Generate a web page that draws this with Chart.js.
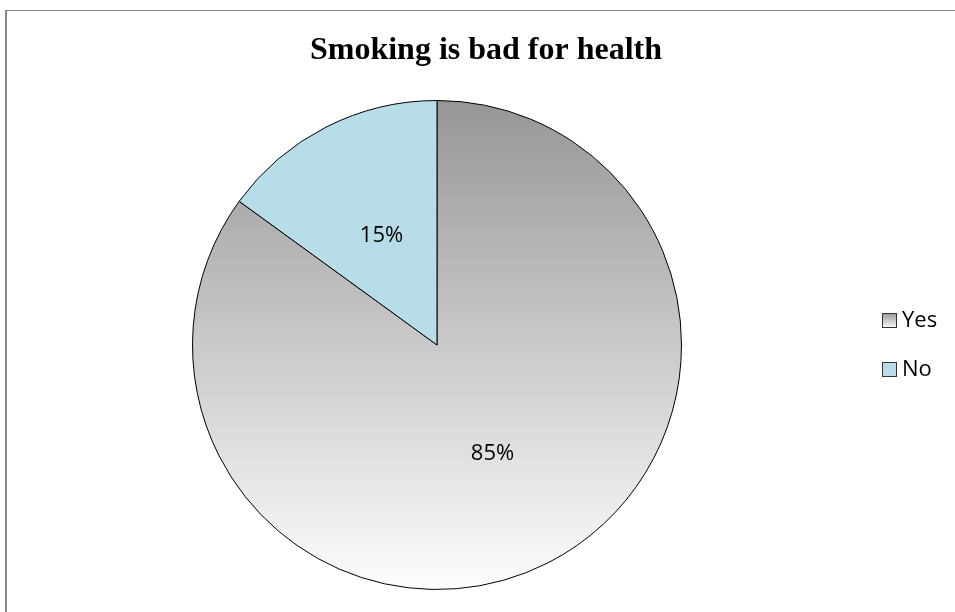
<!DOCTYPE html>
<html>
<head>
<meta charset="utf-8">
<script src="https://cdn.jsdelivr.net/npm/chart.js@4.4.1/dist/chart.umd.min.js"></script>
<style>
    html, body { margin: 0; padding: 0; background: #fff; overflow: hidden; }
    #frame {
        position: absolute; left: 5px; top: 10px; width: 980px; height: 700px;
        border-top: 1px solid #878787; border-left: 2px solid #878787;
    }
    #pie { position: absolute; left: 0; top: 0; }
</style>
</head>
<body>
<div id="frame"></div>
<canvas id="pie" width="955" height="612"></canvas>
<script>
const chartTitle = "Smoking is bad for health";
const categories = ["Yes", "No"];
const shares = [85, 15];
const pctLabels = shares.map((v) => v + "%");

// Yes slice uses a vertical grey-to-white fill like the original
function yesGradient(ctx, top, bottom) {
    const g = ctx.createLinearGradient(0, top, 0, bottom);
    g.addColorStop(0, "#969696");
    g.addColorStop(1, "#fdfdfd");
    return g;
}

const sliceColor = function (context) {
    if (context.dataIndex === 1) return "#b7dde8";
    const area = context.chart.chartArea;
    if (!area) return "#c8c8c8";
    return yesGradient(context.chart.ctx, area.top, area.bottom);
};

const textPlugin = {
    id: "textPlugin",
    afterDraw(chart) {
        const ctx = chart.ctx;
        ctx.save();

        // title
        ctx.fillStyle = "#000";
        ctx.font = "bold 32px 'Liberation Serif', 'Times New Roman', serif";
        ctx.textAlign = "center";
        ctx.textBaseline = "alphabetic";
        ctx.fillText(chartTitle, 486, 59);

        // percentage labels in the middle of each slice
        ctx.font = "22px 'Open Sans', sans-serif";
        ctx.textBaseline = "middle";
        const meta = chart.getDatasetMeta(0);
        meta.data.forEach((arc, i) => {
            const p = arc.tooltipPosition();
            ctx.fillText(pctLabels[i], p.x, p.y);
        });

        // legend
        ctx.textAlign = "left";
        categories.forEach((name, i) => {
            const y = 313 + i * 49;
            ctx.fillStyle = i === 0 ? yesGradient(ctx, y, y + 15) : "#b7dde8";
            ctx.fillRect(882, y, 15, 15);
            ctx.strokeStyle = "#333";
            ctx.lineWidth = 1;
            ctx.strokeRect(882.5, y + 0.5, 14, 14);
            ctx.fillStyle = "#000";
            ctx.fillText(name, 902, y + 8);
        });

        ctx.restore();
    }
};

new Chart(document.getElementById("pie"), {
    type: "pie",
    data: {
        labels: categories,
        datasets: [{
            data: shares,
            backgroundColor: sliceColor,
            borderColor: "#000",
            borderWidth: 1
        }]
    },
    options: {
        responsive: false,
        animation: false,
        devicePixelRatio: 1,
        layout: { padding: { left: 192, right: 273, top: 100, bottom: 22 } },
        plugins: {
            legend: { display: false },
            title: { display: false },
            tooltip: { enabled: false }
        }
    },
    plugins: [textPlugin]
});
</script>
</body>
</html>
